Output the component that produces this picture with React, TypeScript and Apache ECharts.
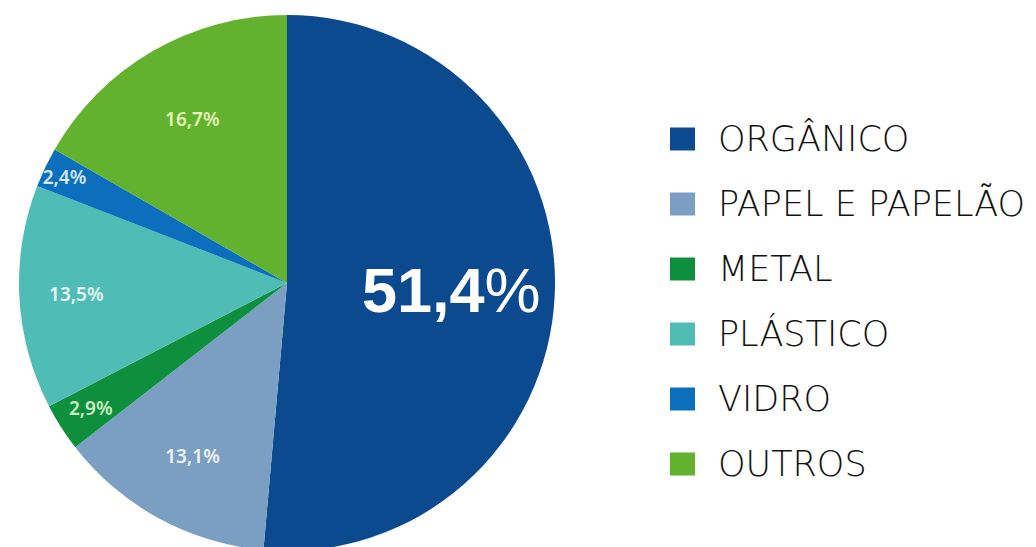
import React, { useEffect, useRef } from "react";
import * as echarts from "echarts";

const categories = ["ORGÂNICO", "PAPEL E PAPELÃO", "METAL", "PLÁSTICO", "VIDRO", "OUTROS"];
const values = [51.4, 13.1, 2.9, 13.5, 2.4, 16.7];
const colors = ["#0b4a8e", "#7b9fc3", "#0e8f3e", "#4fbcb5", "#0b6fbd", "#62b22f"];
const labelColors = ["#ffffff", "#eef3f8", "#c9efc4", "#e8f6f4", "#d6e8f8", "#e4f3b8"];
const labelRadii = [0.6, 0.72, 0.85, 0.77, 0.9, 0.69];

const CX = 287;
const CY = 283;
const R = 268;

export default function App() {
  const ref = useRef<HTMLDivElement>(null);
  useEffect(() => {
    const chart = echarts.init(ref.current!, null, { renderer: "svg" });
    const fmt = (v: number) => v.toFixed(1).replace(".", ",");
    chart.setOption({
      animation: false,
      backgroundColor: "#ffffff",
      legend: {
        orient: "vertical",
        left: 665,
        top: 116,
        icon: "rect",
        itemWidth: 25,
        itemHeight: 23,
        itemGap: 29,
        selectedMode: false,
        data: categories,
        textStyle: {
          fontFamily: "DejaVu Sans",
          fontWeight: 200,
          fontSize: 35,
          lineHeight: 36,
          color: "#111111",
          padding: [0, 0, 0, 18],
        },
      },
      series: [
        {
          type: "pie",
          center: [CX, CY],
          radius: [0, R],
          startAngle: 90,
          clockwise: true,
          avoidLabelOverlap: false,
          labelLine: { show: false },
          emphasis: { disabled: true },
          itemStyle: { borderWidth: 0 },
          label: {
            show: true,
            position: "inside",
            formatter: (p: any) => fmt(p.value) + "%",
            fontFamily: "Noto Sans",
            fontWeight: 600,
            fontSize: 19,
          },
          labelLayout: (params: any) => {
            const i = params.dataIndex;
            const rect = params.labelRect;
            const lx = rect.x + rect.width / 2;
            const ly = rect.y + rect.height / 2;
            const k = labelRadii[i] / 0.5;
            return { dx: (lx - CX) * (k - 1), dy: (ly - CY) * (k - 1) };
          },
          data: categories.map((name, i) => ({
            name,
            value: values[i],
            itemStyle: { color: colors[i] },
            label:
              i === 0
                ? {
                    formatter: (p: any) => "{b|" + fmt(p.value) + "}{p|%}",
                    rich: {
                      b: {
                        fontFamily: "Liberation Sans",
                        fontWeight: "bold",
                        fontSize: 63,
                        color: "#ffffff",
                      },
                      p: {
                        fontFamily: "Liberation Sans",
                        fontWeight: "normal",
                        fontSize: 63,
                        color: "#ffffff",
                      },
                    },
                  }
                : { color: labelColors[i] },
          })),
        },
      ],
    });
    return () => chart.dispose();
  }, []);
  return (
    <div
      ref={ref}
      style={{ position: "fixed", left: 0, top: 0, width: 1036, height: 547 }}
    />
  );
}
